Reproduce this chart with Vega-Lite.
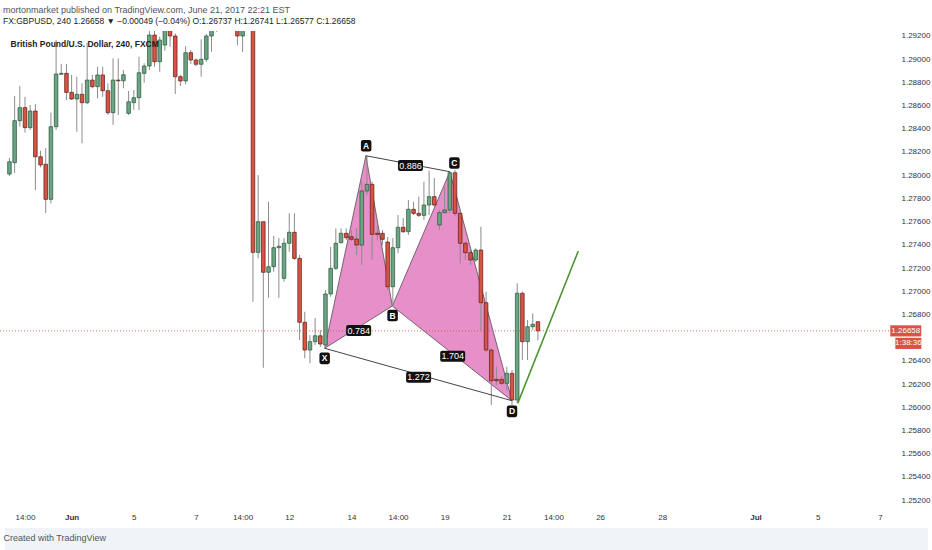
{
  "$schema": "https://vega.github.io/schema/vega-lite/v6.json",
  "width": 889,
  "height": 479,
  "autosize": {"type": "none"},
  "padding": {"left": 0, "top": 31, "right": 43, "bottom": 40},
  "background": "#ffffff",
  "title": {
    "text": "mortonmarket published on TradingView.com, June 21, 2017 22:21 EST",
    "subtitle": "FX:GBPUSD, 240 1.26658 ▼ −0.00049 (−0.04%) O:1.26737 H:1.26741 L:1.26577 C:1.26658",
    "anchor": "start", "frame": "group", "dx": 3, "offset": 6,
    "fontSize": 9, "fontWeight": "normal", "color": "#50535e",
    "font": "Liberation Sans Narrow, Liberation Sans, sans-serif",
    "subtitleFont": "Liberation Sans Narrow, Liberation Sans, sans-serif",
    "subtitleFontSize": 8.5, "subtitleColor": "#222222", "subtitlePadding": 2
  },
  "datasets": {
    "candles": [
      {"k":0,"o":1.28010,"h":1.28148,"l":1.27993,"c":1.28116},
      {"k":1,"o":1.28108,"h":1.28682,"l":1.28019,"c":1.28470},
      {"k":2,"o":1.28470,"h":1.28769,"l":1.28418,"c":1.28582},
      {"k":3,"o":1.28582,"h":1.28676,"l":1.28367,"c":1.28410},
      {"k":4,"o":1.28410,"h":1.28605,"l":1.28390,"c":1.28553},
      {"k":5,"o":1.28553,"h":1.28613,"l":1.27872,"c":1.28159},
      {"k":6,"o":1.28159,"h":1.28211,"l":1.28068,"c":1.28088},
      {"k":7,"o":1.28094,"h":1.28234,"l":1.27674,"c":1.27792},
      {"k":8,"o":1.27792,"h":1.28539,"l":1.27757,"c":1.28418},
      {"k":9,"o":1.28418,"h":1.29165,"l":1.28390,"c":1.28872},
      {"k":10,"o":1.28870,"h":1.28958,"l":1.28864,"c":1.28878},
      {"k":11,"o":1.28878,"h":1.28958,"l":1.28648,"c":1.28714},
      {"k":12,"o":1.28714,"h":1.28864,"l":1.28648,"c":1.28657},
      {"k":13,"o":1.28657,"h":1.28849,"l":1.28375,"c":1.28697},
      {"k":14,"o":1.28697,"h":1.28792,"l":1.28275,"c":1.28625},
      {"k":15,"o":1.28625,"h":1.29142,"l":1.28613,"c":1.28820},
      {"k":16,"o":1.28820,"h":1.28864,"l":1.28749,"c":1.28763},
      {"k":17,"o":1.28763,"h":1.28935,"l":1.28663,"c":1.28864},
      {"k":18,"o":1.28864,"h":1.28935,"l":1.28676,"c":1.28728},
      {"k":19,"o":1.28728,"h":1.28792,"l":1.28519,"c":1.28539},
      {"k":20,"o":1.28539,"h":1.29007,"l":1.28433,"c":1.28820},
      {"k":21,"o":1.28820,"h":1.29007,"l":1.28519,"c":1.28814},
      {"k":22,"o":1.28814,"h":1.28907,"l":1.28749,"c":1.28866},
      {"k":23,"o":1.28533,"h":1.28726,"l":1.28519,"c":1.28633},
      {"k":24,"o":1.28625,"h":1.28734,"l":1.28562,"c":1.28668},
      {"k":25,"o":1.28668,"h":1.29021,"l":1.28562,"c":1.28883},
      {"k":26,"o":1.28878,"h":1.28965,"l":1.28797,"c":1.28941},
      {"k":27,"o":1.28941,"h":1.29300,"l":1.28907,"c":1.29208},
      {"k":28,"o":1.29208,"h":1.29300,"l":1.28935,"c":1.28978},
      {"k":29,"o":1.28978,"h":1.29194,"l":1.28892,"c":1.29165},
      {"k":30,"o":1.29122,"h":1.29350,"l":1.29073,"c":1.29300},
      {"k":31,"o":1.29300,"h":1.29350,"l":1.29107,"c":1.29200},
      {"k":32,"o":1.29200,"h":1.29223,"l":1.28700,"c":1.28849},
      {"k":33,"o":1.28849,"h":1.28864,"l":1.28769,"c":1.28812},
      {"k":34,"o":1.28812,"h":1.29113,"l":1.28783,"c":1.29056},
      {"k":35,"o":1.29056,"h":1.29079,"l":1.28958,"c":1.28993},
      {"k":36,"o":1.28993,"h":1.29007,"l":1.28941,"c":1.28956},
      {"k":37,"o":1.28956,"h":1.29171,"l":1.28849,"c":1.28999},
      {"k":38,"o":1.28999,"h":1.29217,"l":1.28978,"c":1.29200},
      {"k":39,"o":1.29200,"h":1.29350,"l":1.29064,"c":1.29300},
      {"k":40,"o":1.29320,"h":1.29450,"l":1.29235,"c":1.29400},
      {"k":41,"o":1.29400,"h":1.29580,"l":1.29360,"c":1.29520},
      {"k":42,"o":1.29520,"h":1.29600,"l":1.29380,"c":1.29440},
      {"k":43,"o":1.29440,"h":1.29550,"l":1.29400,"c":1.29500},
      {"k":44,"o":1.29300,"h":1.29360,"l":1.29120,"c":1.29200},
      {"k":45,"o":1.29200,"h":1.29420,"l":1.29062,"c":1.29350},
      {"k":46,"o":1.29350,"h":1.29680,"l":1.29300,"c":1.29500},
      {"k":47,"o":1.29500,"h":1.29600,"l":1.26909,"c":1.27335},
      {"k":48,"o":1.27335,"h":1.28001,"l":1.27284,"c":1.27599},
      {"k":49,"o":1.27599,"h":1.27599,"l":1.26340,"c":1.27163},
      {"k":50,"o":1.27163,"h":1.27771,"l":1.26943,"c":1.27211},
      {"k":51,"o":1.27211,"h":1.27476,"l":1.27168,"c":1.27375},
      {"k":52,"o":1.27375,"h":1.27458,"l":1.26943,"c":1.27387},
      {"k":53,"o":1.27111,"h":1.27458,"l":1.27082,"c":1.27413},
      {"k":54,"o":1.27413,"h":1.27671,"l":1.27340,"c":1.27508},
      {"k":55,"o":1.27508,"h":1.27671,"l":1.27269,"c":1.27283},
      {"k":56,"o":1.27283,"h":1.27312,"l":1.26579,"c":1.26732},
      {"k":57,"o":1.26732,"h":1.26823,"l":1.26422,"c":1.26493},
      {"k":58,"o":1.26493,"h":1.26622,"l":1.26378,"c":1.26565},
      {"k":59,"o":1.26565,"h":1.26769,"l":1.26536,"c":1.26616},
      {"k":60,"o":1.26616,"h":1.26665,"l":1.26519,"c":1.26545},
      {"k":61,"o":1.26536,"h":1.27010,"l":1.26510,"c":1.26976},
      {"k":62,"o":1.26976,"h":1.27383,"l":1.26952,"c":1.27197},
      {"k":63,"o":1.27197,"h":1.27542,"l":1.27183,"c":1.27413},
      {"k":64,"o":1.27418,"h":1.27542,"l":1.27413,"c":1.27499},
      {"k":65,"o":1.27499,"h":1.27542,"l":1.27441,"c":1.27461},
      {"k":66,"o":1.27470,"h":1.27527,"l":1.27433,"c":1.27447},
      {"k":67,"o":1.27450,"h":1.27545,"l":1.27312,"c":1.27398},
      {"k":68,"o":1.27398,"h":1.27944,"l":1.27226,"c":1.27864},
      {"k":69,"o":1.27864,"h":1.28165,"l":1.27829,"c":1.27921},
      {"k":70,"o":1.27921,"h":1.27944,"l":1.27269,"c":1.27490},
      {"k":71,"o":1.27499,"h":1.27571,"l":1.27441,"c":1.27490},
      {"k":72,"o":1.27499,"h":1.27527,"l":1.27398,"c":1.27447},
      {"k":73,"o":1.27424,"h":1.27467,"l":1.27010,"c":1.27039},
      {"k":74,"o":1.27039,"h":1.27458,"l":1.26872,"c":1.27375},
      {"k":75,"o":1.27375,"h":1.27657,"l":1.27327,"c":1.27551},
      {"k":76,"o":1.27551,"h":1.27631,"l":1.27502,"c":1.27513},
      {"k":77,"o":1.27513,"h":1.27786,"l":1.27484,"c":1.27706},
      {"k":78,"o":1.27706,"h":1.27771,"l":1.27657,"c":1.27671},
      {"k":79,"o":1.27671,"h":1.27815,"l":1.27639,"c":1.27654},
      {"k":80,"o":1.27654,"h":1.27944,"l":1.27614,"c":1.27743},
      {"k":81,"o":1.27743,"h":1.28039,"l":1.27657,"c":1.27815},
      {"k":82,"o":1.27815,"h":1.27976,"l":1.27728,"c":1.27743},
      {"k":83,"o":1.27571,"h":1.27700,"l":1.27527,"c":1.27677},
      {"k":84,"o":1.27677,"h":1.27901,"l":1.27674,"c":1.27700},
      {"k":85,"o":1.27700,"h":1.28030,"l":1.27674,"c":1.28021},
      {"k":86,"o":1.28021,"h":1.28045,"l":1.27648,"c":1.27671},
      {"k":87,"o":1.27671,"h":1.27700,"l":1.27240,"c":1.27413},
      {"k":88,"o":1.27413,"h":1.27427,"l":1.27269,"c":1.27332},
      {"k":89,"o":1.27332,"h":1.27370,"l":1.27226,"c":1.27269},
      {"k":90,"o":1.27269,"h":1.27370,"l":1.27252,"c":1.27355},
      {"k":91,"o":1.27355,"h":1.27556,"l":1.26665,"c":1.26901},
      {"k":92,"o":1.26901,"h":1.26996,"l":1.26478,"c":1.26493},
      {"k":93,"o":1.26493,"h":1.26508,"l":1.26019,"c":1.26228},
      {"k":94,"o":1.26240,"h":1.26349,"l":1.26191,"c":1.26228},
      {"k":95,"o":1.26240,"h":1.26269,"l":1.26191,"c":1.26206},
      {"k":96,"o":1.26206,"h":1.26349,"l":1.26148,"c":1.26292},
      {"k":97,"o":1.26292,"h":1.26321,"l":1.25920,"c":1.26062},
      {"k":98,"o":1.26062,"h":1.27068,"l":1.26036,"c":1.26982},
      {"k":99,"o":1.26982,"h":1.26996,"l":1.26407,"c":1.26565},
      {"k":100,"o":1.26565,"h":1.26752,"l":1.26407,"c":1.26694},
      {"k":101,"o":1.26694,"h":1.26809,"l":1.26665,"c":1.26715},
      {"k":102,"o":1.26737,"h":1.26741,"l":1.26577,"c":1.26658}
    ],
    "tri": [
      {"tri":"XAB","ord":0,"k":60.84,"p":1.26508},
      {"tri":"XAB","ord":1,"k":68.8,"p":1.28168},
      {"tri":"XAB","ord":2,"k":73.9,"p":1.26872},
      {"tri":"XAB","ord":3,"k":60.84,"p":1.26508},
      {"tri":"BCD","ord":0,"k":73.9,"p":1.26872},
      {"tri":"BCD","ord":1,"k":85.0,"p":1.28030},
      {"tri":"BCD","ord":2,"k":97.0,"p":1.26056},
      {"tri":"BCD","ord":3,"k":73.9,"p":1.26872}
    ],
    "lines": [
      {"seg":"AC","ord":0,"k":68.8,"p":1.28168},
      {"seg":"AC","ord":1,"k":85.0,"p":1.28030},
      {"seg":"XD","ord":0,"k":60.84,"p":1.26508},
      {"seg":"XD","ord":1,"k":97.0,"p":1.26056}
    ],
    "proj": [
      {"k":98.1,"p":1.26033},
      {"k":109.8,"p":1.27347}
    ],
    "ratios": [
      {"t":"0.886","k":77.4,"p":1.28083},
      {"t":"0.784","k":67.4,"p":1.26661},
      {"t":"1.704","k":85.55,"p":1.26440},
      {"t":"1.272","k":78.97,"p":1.26258}
    ],
    "points": [
      {"t":"A","k":68.85,"p":1.28254},
      {"t":"X","k":60.84,"p":1.26421},
      {"t":"B","k":73.95,"p":1.26790},
      {"t":"C","k":85.88,"p":1.28105},
      {"t":"D","k":97.0,"p":1.25964}
    ],
    "last": [
      {"p":1.26658,"t":"1.26658"}
    ],
    "legend": [
      {"k":0.2,"p":1.29131,"t":"British Pound/U.S. Dollar, 240, FXCM"}
    ]
  },
  "layer": [
    {
      "data": {"values": [{"a": 1}]},
      "mark": {"type": "rect", "color": "#f0f3f8", "clip": false},
      "encoding": {
        "x": {"datum": -0.9, "type": "quantitative"},
        "x2": {"datum": 177.3},
        "y": {"datum": 1.24959, "type": "quantitative"},
        "y2": {"datum": 1.2465}
      }
    },
    {
      "data": {"name": "tri"},
      "mark": {"type": "line", "fill": "#e68fc8", "stroke": "#5c4a55", "strokeWidth": 0.8, "clip": true},
      "encoding": {
        "x": {
          "field": "k", "type": "quantitative",
          "scale": {"domain": [-0.86, 168.8], "nice": false, "zero": false},
          "axis": {
            "values": [3,12,24,36,45,54,66,75,84,96,105,114,126,144,156,168],
            "tickCount": 30,
            "labelExpr": "['14:00','Jun','5','7','14:00','12','14','14:00','19','21','14:00','26','28','Jul','5','7'][indexof([3,12,24,36,45,54,66,75,84,96,105,114,126,144,156,168], datum.value)]",
            "labelFlush": false, "labelOverlap": false, "labelPadding": 3,
            "labelFontSize": 8, "labelColor": "#333333",
            "labelFont": "Liberation Sans Narrow, Liberation Sans, sans-serif",
            "labelFontWeight": {"condition": {"test": "datum.value == 12 || datum.value == 144", "value": "bold"}, "value": "normal"},
            "ticks": false, "domain": false, "grid": false,
            "title": "Created with  TradingView",
            "titleAnchor": "start", "titleAlign": "left", "titleX": 3, "titleY": 27,
            "titleBaseline": "middle", "titleFontSize": 9, "titleFontWeight": "normal",
            "titleColor": "#555555",
            "titleFont": "Liberation Sans Narrow, Liberation Sans, sans-serif",
            "zindex": 1
          }
        },
        "y": {
          "field": "p", "type": "quantitative",
          "scale": {"domain": [1.25114, 1.29243], "nice": false, "zero": false},
          "axis": {
            "orient": "right",
            "values": [1.252,1.254,1.256,1.258,1.26,1.262,1.264,1.268,1.27,1.272,1.274,1.276,1.278,1.28,1.282,1.284,1.286,1.288,1.29,1.292],
            "tickCount": 40,
            "format": ".5f", "labelPadding": 12, "labelFontSize": 8, "labelColor": "#333333",
            "labelFont": "Liberation Sans Narrow, Liberation Sans, sans-serif",
            "title": null, "ticks": false, "domain": false, "grid": false,
            "labelOverlap": false, "labelBound": false
          }
        },
        "detail": {"field": "tri"},
        "order": {"field": "ord", "type": "quantitative"}
      }
    },
    {
      "data": {"name": "candles"},
      "mark": {"type": "rule", "color": "#8c8c8c", "strokeWidth": 1, "clip": true},
      "encoding": {
        "x": {"field": "k", "type": "quantitative"},
        "y": {"field": "l", "type": "quantitative"},
        "y2": {"field": "h"}
      }
    },
    {
      "data": {"name": "candles"},
      "mark": {"type": "bar", "size": 3.6, "strokeWidth": 0.7, "clip": true},
      "encoding": {
        "x": {"field": "k", "type": "quantitative"},
        "y": {"field": "o", "type": "quantitative"},
        "y2": {"field": "c"},
        "color": {"condition": {"test": "datum.c >= datum.o", "value": "#6ba583"}, "value": "#d75442"},
        "stroke": {"condition": {"test": "datum.c >= datum.o", "value": "#225437"}, "value": "#5b1a13"}
      }
    },
    {
      "data": {"name": "last"},
      "mark": {"type": "rule", "color": "#d75442", "strokeDash": [1, 2], "strokeWidth": 1, "opacity": 0.85},
      "encoding": {
        "y": {"field": "p", "type": "quantitative"}
      }
    },
    {
      "data": {"name": "lines"},
      "mark": {"type": "line", "color": "#444444", "strokeWidth": 1, "clip": true},
      "encoding": {
        "x": {"field": "k", "type": "quantitative"},
        "y": {"field": "p", "type": "quantitative"},
        "detail": {"field": "seg"},
        "order": {"field": "ord", "type": "quantitative"}
      }
    },
    {
      "data": {"name": "proj"},
      "mark": {"type": "line", "color": "#45922b", "strokeWidth": 1.5},
      "encoding": {
        "x": {"field": "k", "type": "quantitative"},
        "y": {"field": "p", "type": "quantitative"}
      }
    },
    {
      "data": {"name": "ratios"},
      "mark": {"type": "point", "shape": "M-0.84,-0.44 H0.84 Q1,-0.44 1,-0.28 V0.28 Q1,0.44 0.84,0.44 H-0.84 Q-1,0.44 -1,0.28 V-0.28 Q-1,-0.44 -0.84,-0.44 Z", "size": 625, "filled": true, "color": "#111111", "opacity": 1},
      "encoding": {
        "x": {"field": "k", "type": "quantitative"},
        "y": {"field": "p", "type": "quantitative"}
      }
    },
    {
      "data": {"name": "ratios"},
      "mark": {"type": "text", "color": "#ffffff", "fontSize": 9, "font": "Liberation Sans, sans-serif", "baseline": "middle"},
      "encoding": {
        "x": {"field": "k", "type": "quantitative"},
        "y": {"field": "p", "type": "quantitative"},
        "text": {"field": "t"}
      }
    },
    {
      "data": {"name": "points"},
      "mark": {"type": "point", "shape": "M-0.6,-1.1 H0.6 Q1,-1.1 1,-0.7 V0.7 Q1,1.1 0.6,1.1 H-0.6 Q-1,1.1 -1,0.7 V-0.7 Q-1,-1.1 -0.6,-1.1 Z", "size": 110, "filled": true, "color": "#111111", "opacity": 1},
      "encoding": {
        "x": {"field": "k", "type": "quantitative"},
        "y": {"field": "p", "type": "quantitative"}
      }
    },
    {
      "data": {"name": "points"},
      "mark": {"type": "text", "color": "#ffffff", "fontSize": 8.5, "fontWeight": "bold", "font": "Liberation Sans, sans-serif", "baseline": "middle"},
      "encoding": {
        "x": {"field": "k", "type": "quantitative"},
        "y": {"field": "p", "type": "quantitative"},
        "text": {"field": "t"}
      }
    },
    {
      "data": {"name": "legend"},
      "mark": {"type": "text", "align": "left", "baseline": "middle", "fontSize": 8.5, "fontWeight": "bold", "color": "#222222", "font": "Liberation Sans Narrow, Liberation Sans, sans-serif"},
      "encoding": {
        "x": {"field": "k", "type": "quantitative"},
        "y": {"field": "p", "type": "quantitative"},
        "text": {"field": "t"}
      }
    },
    {
      "data": {"name": "last"},
      "mark": {"type": "point", "shape": "M-1,-0.36 H1 V0.36 H-1 Z", "size": 961, "filled": true, "color": "#d75442", "opacity": 1},
      "encoding": {
        "x": {"datum": 173.0, "type": "quantitative"},
        "y": {"field": "p", "type": "quantitative"}
      }
    },
    {
      "data": {"name": "last"},
      "mark": {"type": "text", "color": "#ffffff", "fontSize": 8, "baseline": "middle", "font": "Liberation Sans Narrow, Liberation Sans, sans-serif"},
      "encoding": {
        "x": {"datum": 173.0, "type": "quantitative"},
        "y": {"field": "p", "type": "quantitative"},
        "text": {"field": "t"}
      }
    },
    {
      "data": {"name": "last"},
      "mark": {"type": "point", "shape": "M-1,-0.43 H1 V0.43 H-1 Z", "size": 676, "filled": true, "color": "#d75442", "opacity": 1, "yOffset": 12.5},
      "encoding": {
        "x": {"datum": 173.5, "type": "quantitative"},
        "y": {"field": "p", "type": "quantitative"}
      }
    },
    {
      "data": {"name": "last"},
      "mark": {"type": "text", "text": "1:38:36", "color": "#ffffff", "fontSize": 8, "baseline": "middle", "yOffset": 12.5, "font": "Liberation Sans Narrow, Liberation Sans, sans-serif"},
      "encoding": {
        "x": {"datum": 173.5, "type": "quantitative"},
        "y": {"field": "p", "type": "quantitative"}
      }
    }
  ],
  "config": {
    "view": {"stroke": null},
    "axis": {"grid": false, "ticks": false, "domain": false, "labelOverlap": false}
  }
}
